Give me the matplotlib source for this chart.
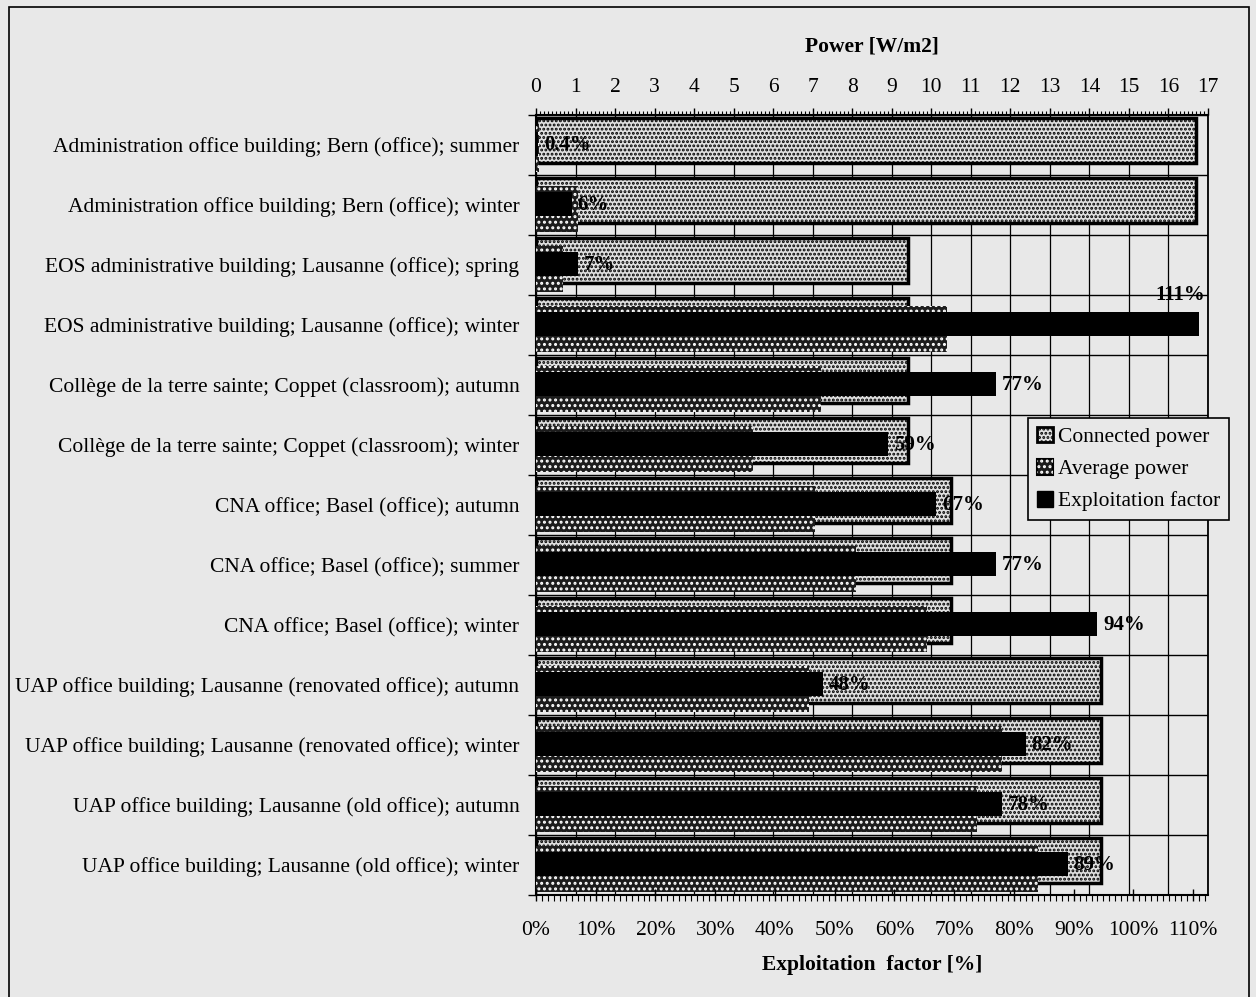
import numpy as np
import matplotlib
matplotlib.use("Agg")
import matplotlib.pyplot as plt
from matplotlib.patches import Patch, Rectangle
from matplotlib.legend_handler import HandlerTuple
from matplotlib.ticker import MultipleLocator, FixedLocator, FuncFormatter

# ---- data -------------------------------------------------------------
categories = [
    "Administration office building; Bern (office); summer",
    "Administration office building; Bern (office); winter",
    "EOS administrative building; Lausanne (office); spring",
    "EOS administrative building; Lausanne (office); winter",
    "Collège de la terre sainte; Coppet (classroom); autumn",
    "Collège de la terre sainte; Coppet (classroom); winter",
    "CNA office; Basel (office); autumn",
    "CNA office; Basel (office); summer",
    "CNA office; Basel (office); winter",
    "UAP office building; Lausanne (renovated office); autumn",
    "UAP office building; Lausanne (renovated office); winter",
    "UAP office building; Lausanne (old office); autumn",
    "UAP office building; Lausanne (old office); winter",
]
connected_power = [16.7, 16.7, 9.4, 9.4, 9.4, 9.4, 10.5, 10.5, 10.5, 14.3, 14.3, 14.3, 14.3]   # W/m2
average_power = [0.07, 1.05, 0.68, 10.4, 7.2, 5.5, 7.05, 8.1, 9.9, 6.9, 11.8, 11.15, 12.7]     # W/m2
exploitation_factor = [0.4, 6, 7, 111, 77, 59, 67, 77, 94, 48, 82, 78, 89]                    # %
power_ticks = list(range(0, 18))
factor_ticks = list(range(0, 111, 10))

# ---- style --------------------------------------------------------------
BG = "#e8e8e8"
LIGHT = "#e0e0e0"
DARK = "#1c1c1c"
plt.rcParams["font.family"] = ["Liberation Serif", "DejaVu Serif"]
plt.rcParams["hatch.linewidth"] = 1.4

fig = plt.figure(figsize=(12.56, 9.97), dpi=100, facecolor=BG)
W, H = 1256, 997
left, right, top, bottom = 536, 1208, 115, 895
ax = fig.add_axes([left / W, 1 - bottom / H, (right - left) / W, (bottom - top) / H])
ax.set_facecolor(BG)
ax2 = ax.twiny()

y = np.arange(len(categories))

# connected power: light bar with black dots
ax.barh(y - 0.08, connected_power, height=0.75, color=LIGHT, edgecolor="black",
        linewidth=2.5, hatch="....", zorder=2)
# average power: dark bar with white dots
ax.barh(y + 0.07, average_power, height=0.77, color=DARK, linewidth=0, zorder=3)
ax.barh(y + 0.07, average_power, height=0.77, color="none", edgecolor="white",
        linewidth=0, hatch="...", zorder=3.1)

ax.set_xlim(0, 17)
ax.set_ylim(len(categories) - 0.5, -0.5)

# power axis on top
ax.xaxis.tick_top()
ax.set_xticks(power_ticks)
ax.xaxis.set_minor_locator(MultipleLocator(0.1))
ax.tick_params(axis="x", which="major", direction="out", length=5, width=1,
               labelsize=15.5, pad=8, top=True, bottom=False,
               labeltop=True, labelbottom=False)
ax.tick_params(axis="x", which="minor", direction="out", length=3, width=0.8,
               top=True, bottom=False)
ax.grid(axis="x", which="major", color="black", linewidth=0.9, zorder=0.5)
ax.set_axisbelow(True)

# categories
ax.set_yticks(y)
ax.set_yticklabels(categories, fontsize=15.5)
ax.yaxis.set_minor_locator(FixedLocator(np.arange(-0.5, len(categories), 1.0)))
ax.tick_params(axis="y", which="major", length=0, pad=12)
ax.tick_params(axis="y", which="minor", length=6, width=1, direction="out")
ax.grid(axis="y", which="minor", color="black", linewidth=1.0, zorder=0.5)

for side in ("top", "left", "bottom"):
    ax.spines[side].set_linewidth(1.5)
ax.spines["right"].set_linewidth(1.3)
ax.spines["right"].set_linestyle((0, (2, 1)))

# exploitation factor on the bottom axis
factor = np.array(exploitation_factor) / 100.0
ax2.barh(y - 0.017, factor, height=0.4, color="black", zorder=4)
ax2.set_xlim(0, 1.125)
ax2.xaxis.tick_bottom()
ax2.set_xticks(np.array(factor_ticks) / 100.0)
ax2.xaxis.set_major_formatter(FuncFormatter(lambda v, p: f"{round(v * 100):d}%"))
ax2.xaxis.set_minor_locator(MultipleLocator(0.01))
ax2.tick_params(axis="x", which="major", direction="inout", length=9, width=1,
                labelsize=15.5, pad=14, top=False, bottom=True,
                labeltop=False, labelbottom=True)
ax2.tick_params(axis="x", which="minor", direction="out", length=4, width=0.8,
                top=False, bottom=True)
for s in ax2.spines.values():
    s.set_visible(False)

xmax2 = ax2.get_xlim()[1]
for yi, v, f in zip(y, exploitation_factor, factor):
    if f > xmax2 - 0.08:
        ax2.annotate(f"{v:g}%", xy=(xmax2, yi - 0.5), xytext=(-2, 0),
                     textcoords="offset points", ha="right", va="center",
                     fontsize=15, fontweight="bold", zorder=6)
    else:
        ax2.annotate(f"{v:g}%", xy=(f, yi), xytext=(4, 0),
                     textcoords="offset points", ha="left", va="center",
                     fontsize=15, fontweight="bold", zorder=6)

# axis titles
cx = (left + right) / 2 / W
fig.text(cx, 1 - 47 / H, "Power [W/m2]", ha="center", va="center",
         fontsize=15.5, fontweight="bold")
fig.text(cx, 1 - 965 / H, "Exploitation  factor [%]", ha="center", va="center",
         fontsize=15.5, fontweight="bold")

# legend
h_connected = Patch(facecolor=LIGHT, edgecolor="black", hatch="....", linewidth=2)
h_average = (Patch(facecolor=DARK, edgecolor="black", linewidth=1.5),
             Patch(facecolor="none", edgecolor="white", hatch="...", linewidth=0))
h_factor = Patch(facecolor="black", edgecolor="black")
leg = fig.legend([h_connected, h_average, h_factor],
                 ["Connected power", "Average power", "Exploitation factor"],
                 handler_map={tuple: HandlerTuple(ndivide=1, pad=0)},
                 loc="upper right",
                 bbox_to_anchor=(1229 / W, 1 - 418 / H), bbox_transform=fig.transFigure,
                 fontsize=15.5, frameon=True, fancybox=False, edgecolor="black",
                 facecolor=BG, framealpha=1, borderpad=0.4, labelspacing=0.55,
                 handlelength=0.75, handleheight=0.75, handletextpad=0.25,
                 borderaxespad=0)
leg.get_frame().set_linewidth(1.2)
leg.set_zorder(10)

# outer frame around the figure
fig.patches.append(Rectangle((9 / W, -0.02), (1249 - 9) / W, 1.02 - 7 / H,
                             transform=fig.transFigure, fill=False,
                             edgecolor="black", linewidth=1.2))

fig.savefig("out.png", dpi=100, facecolor=BG)
